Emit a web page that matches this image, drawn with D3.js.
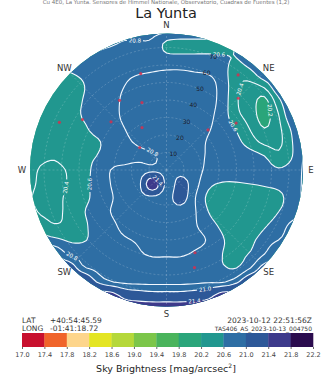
<!DOCTYPE html>
<html><head><meta charset="utf-8">
<script src="https://cdn.jsdelivr.net/npm/d3@7"></script>
<style>body{margin:0;background:#fff}svg{display:block}text{font-family:"DejaVu Sans",sans-serif}</style>
</head><body>
<svg id="c" width="329" height="374"></svg>
<script>
// ---------------- data ----------------
const title = "La Yunta";
const subtitle = "Cu 4E0, La Yunta. Sensores de Himmel Nationale, Observatorio, Cuadras de Fuentes (1,2)";
const latText = ["LAT", "+40:54:45.59"];
const longText = ["LONG", "-01:41:18.72"];
const dateText = "2023-10-12 22:51:56Z";
const fileText = "TAS406_AS_2023-10-13_004750";
const cbarLabel = "Sky Brightness [mag/arcsec";
const levels = [17.0,17.4,17.8,18.2,18.6,19.0,19.4,19.8,20.2,20.6,21.0,21.4,21.8,22.2];
const levelColors = ["#c8102e","#f0642a","#fdd58b","#e4e523","#b5d83a","#7cc64a","#4ab45c",
  "#2aa57a","#21978f","#2e6ea4","#2d5898","#3d3a8b","#2b0c4e"];
const lineLevels = [20.2,20.4,20.6,20.8,21.0,21.4];
const compass = [["N",0],["NE",45],["E",90],["SE",135],["S",180],["SW",225],["W",270],["NW",315]];
const zenithRings = [10,20,30,40,50,60,70];
const azimuthLines = [0,45,90,135,180,225,270,315];
// measurement points [azimuth deg, zenith deg]
const scanAz  = [345,340,326,301,294,311,330,310,161,164,37,45,46,56];
const scanZen = [57,41,48,56,67,42,28,20,50,58,68,58,33,48];
// grid axis (degrees from zenith, east / south offsets)
const gridAxis = [-80,-72,-64,-56,-48,-40,-32,-24,-16,-8,0,8,16,24,32,40,48,56,64,72,80];
// sky brightness (mag/arcsec^2), rows north->south, columns west->east
const skyGrid = [
[20.65,20.65,20.65,20.75,20.85,20.85,20.85,20.85,20.85,20.85,20.85,20.85,20.85,20.85,20.85,20.85,20.85,20.8,20.8,20.8,20.8],
[20.65,20.65,20.65,20.75,20.85,20.85,20.82,20.78,20.78,20.76,20.55,20.5,20.5,20.5,20.5,20.65,20.85,20.85,20.85,20.85,20.85],
[20.6,20.6,20.6,20.72,20.8,20.75,20.7,20.7,20.7,20.7,20.66,20.66,20.66,20.66,20.64,20.6,20.8,20.85,20.85,20.85,20.85],
[20.55,20.55,20.58,20.6,20.66,20.68,20.7,20.75,20.78,20.8,20.82,20.82,20.8,20.78,20.7,20.45,20.55,20.8,20.85,20.85,20.85],
[20.5,20.5,20.5,20.45,20.58,20.7,20.72,20.8,20.88,20.9,20.9,20.9,20.9,20.87,20.72,20.45,20.35,20.45,20.8,20.85,20.85],
[20.5,20.5,20.5,20.45,20.6,20.7,20.72,20.84,20.9,20.92,20.92,20.92,20.9,20.87,20.72,20.42,20.3,20.15,20.55,20.85,20.85],
[20.5,20.5,20.45,20.45,20.62,20.7,20.73,20.84,20.9,20.92,20.93,20.92,20.9,20.85,20.7,20.45,20.3,20.12,20.4,20.8,20.85],
[20.5,20.5,20.45,20.45,20.55,20.68,20.72,20.8,20.88,20.92,20.93,20.92,20.9,20.82,20.7,20.58,20.38,20.2,20.35,20.65,20.85],
[20.5,20.5,20.45,20.45,20.5,20.57,20.68,20.76,20.83,20.9,20.93,20.92,20.88,20.78,20.7,20.65,20.5,20.35,20.35,20.6,20.85],
[20.5,20.45,20.42,20.48,20.55,20.6,20.7,20.72,20.75,20.78,20.85,20.92,20.86,20.78,20.72,20.72,20.68,20.6,20.45,20.6,20.85],
[20.5,20.38,20.35,20.42,20.52,20.66,20.8,20.85,20.88,20.9,20.92,20.92,20.88,20.75,20.72,20.72,20.72,20.68,20.62,20.68,20.85],
[20.5,20.35,20.3,20.42,20.54,20.66,20.8,20.88,20.9,21.7,20.9,21.1,20.88,20.65,20.58,20.58,20.6,20.62,20.64,20.7,20.85],
[20.45,20.32,20.33,20.45,20.55,20.65,20.78,20.87,20.92,20.9,20.9,21.1,20.82,20.55,20.45,20.45,20.45,20.5,20.55,20.7,20.85],
[20.5,20.38,20.35,20.45,20.58,20.68,20.8,20.88,20.9,20.92,20.92,20.9,20.82,20.6,20.45,20.45,20.45,20.5,20.6,20.72,20.85],
[20.5,20.5,20.42,20.45,20.55,20.68,20.75,20.85,20.88,20.9,20.9,20.88,20.82,20.7,20.55,20.45,20.45,20.58,20.7,20.85,20.85],
[20.7,20.7,20.65,20.58,20.58,20.66,20.72,20.78,20.82,20.87,20.88,20.88,20.85,20.78,20.62,20.5,20.55,20.7,20.8,20.9,20.9],
[21.0,21.0,21.0,20.78,20.72,20.68,20.7,20.72,20.78,20.82,20.82,20.82,20.78,20.72,20.6,20.55,20.62,20.8,21.0,21.0,21.0],
[21.2,21.2,21.2,21.2,20.85,20.75,20.72,20.72,20.72,20.72,20.72,20.72,20.7,20.68,20.62,20.6,20.8,21.1,21.1,21.1,21.1],
[21.4,21.4,21.4,21.4,21.4,21.0,20.82,20.76,20.75,20.75,20.75,20.75,20.76,20.78,20.78,20.95,21.3,21.3,21.3,21.3,21.3],
[21.6,21.6,21.6,21.6,21.6,21.6,21.6,21.3,21.2,21.15,21.15,21.15,21.2,21.3,21.6,21.6,21.6,21.6,21.6,21.6,21.6],
[21.7,21.7,21.7,21.7,21.7,21.7,21.7,21.7,21.7,21.7,21.7,21.7,21.7,21.7,21.7,21.7,21.7,21.7,21.7,21.7,21.7]
];
// contour label anchors [east deg, south deg]
const labelAnchors = [[-18,-73],[30,-66],[-9,-7],[-48,7],[-59,10],[42,-47],[40,-27],[58,-33],[-54,51],[22,70],[17,75],[-5,7]];

// ---------------- layout ----------------
const svg = d3.select("#c");
const cx = 166.5, cy = 170, R = 136.5, rMax = 78;
const rScale = d3.scaleLinear().domain([0, rMax]).range([0, R]);
const bandColor = d3.scaleThreshold().domain(levels.slice(1, -1)).range(levelColors);

// upsample grid (Catmull-Rom) for smooth contouring
const F = 4, G = gridAxis.length, N = (G - 1) * F + 1;
function cr(p0,p1,p2,p3,t){return 0.5*((2*p1)+(-p0+p2)*t+(2*p0-5*p1+4*p2-p3)*t*t+(-p0+3*p1-3*p2+p3)*t*t*t);}
function up1(arr){ const out=[]; const n=arr.length;
  for(let i=0;i<n-1;i++){ for(let k=0;k<F;k++){ const t=k/F;
    out.push(cr(arr[Math.max(0,i-1)],arr[i],arr[i+1],arr[Math.min(n-1,i+2)],t)); } }
  out.push(arr[n-1]); return out; }
const rowsUp = skyGrid.map(up1);
const colsUp = [];
for (let x=0;x<N;x++){ colsUp.push(up1(rowsUp.map(r=>r[x]))); }
const values = new Float64Array(N*N);
for (let y=0;y<N;y++) for (let x=0;x<N;x++) values[y*N+x] = colsUp[x][y];

const gx = d3.scaleLinear().domain([0, N-1]).range([gridAxis[0], gridAxis[G-1]]);
const toPx = (u,v) => [cx + rScale(gx(u-0.5)), cy + rScale(gx(v-0.5))];
const proj = d3.geoTransform({point(x,y){ const p=toPx(x,y); this.stream.point(p[0],p[1]); }});
const path = d3.geoPath(proj);

const defs = svg.append("defs");
defs.append("clipPath").attr("id","disk").append("circle").attr("cx",cx).attr("cy",cy).attr("r",R);

const plot = svg.append("g").attr("clip-path","url(#disk)");
const vmin = d3.min(values);
const startIdx = Math.max(0, d3.bisectRight(levels, vmin) - 1);
const fillLevels = levels.slice(startIdx, -1);
const fills = d3.contours().size([N,N]).thresholds(fillLevels)(values);
plot.selectAll("path.f").data(fills).join("path").attr("class","f")
  .attr("d", path).attr("fill", d => bandColor(d.value + 0.01)).attr("stroke", "none");

// grid
const gridG = plot.append("g").attr("stroke","#ffffff").attr("stroke-opacity",0.28).attr("stroke-width",0.7).attr("fill","none").attr("stroke-dasharray","2,2");
gridG.selectAll("circle").data(zenithRings).join("circle").attr("cx",cx).attr("cy",cy).attr("r",d=>rScale(d));
gridG.selectAll("line").data(azimuthLines).join("line")
  .attr("x1",cx).attr("y1",cy)
  .attr("x2",d=>cx+R*Math.sin(d*Math.PI/180)).attr("y2",d=>cy-R*Math.cos(d*Math.PI/180));

// contour lines
const lineSets = lineLevels.map(l => d3.contours().size([N,N]).thresholds([l])(values)[0]);
const labels = [];
labelAnchors.forEach(([e,s]) => {
  const tx = cx + rScale(e), ty = cy + rScale(s);
  let best = null;
  lineSets.forEach(ms => ms.coordinates.forEach(poly => poly.forEach(ring => {
    ring.forEach((p,i) => { const q = toPx(p[0],p[1]); const d = (q[0]-tx)**2+(q[1]-ty)**2;
      if (!best || d < best.d) best = {d, q, ring, i, level: ms.value}; });
  })));
  if (!best) return;
  const r = best.ring, n = r.length;
  const a = toPx(...r[(best.i - 3 + n) % n]), b = toPx(...r[(best.i + 3) % n]);
  let ang = Math.atan2(b[1]-a[1], b[0]-a[0]) * 180/Math.PI;
  if (ang > 90) ang -= 180; if (ang < -90) ang += 180;
  labels.push({x: best.q[0], y: best.q[1], ang, text: best.level.toFixed(1)});
});
const mask = defs.append("mask").attr("id","lm").attr("maskUnits","userSpaceOnUse")
  .attr("x",0).attr("y",0).attr("width",329).attr("height",374);
mask.append("rect").attr("width",329).attr("height",374).attr("fill","#fff");
mask.selectAll("rect.g").data(labels).join("rect").attr("class","g")
  .attr("x",-8).attr("y",-3).attr("width",16).attr("height",6).attr("fill","#000")
  .attr("transform",d=>`translate(${d.x},${d.y}) rotate(${d.ang})`);
plot.append("g").attr("mask","url(#lm)").selectAll("path.l").data(lineSets).join("path").attr("class","l")
  .attr("d", path).attr("fill","none").attr("stroke","#f2f8ff").attr("stroke-width",1.1);
plot.selectAll("text.cl").data(labels).join("text").attr("class","cl")
  .attr("transform",d=>`translate(${d.x},${d.y}) rotate(${d.ang})`)
  .attr("text-anchor","middle").attr("dy","0.35em").attr("font-size",5.5).attr("fill","#ffffff").text(d=>d.text);

// measurement points
plot.selectAll("circle.pt").data(scanAz.map((a,i)=>[a,scanZen[i]])).join("circle").attr("class","pt")
  .attr("cx",d=>cx+rScale(d[1])*Math.sin(d[0]*Math.PI/180))
  .attr("cy",d=>cy-rScale(d[1])*Math.cos(d[0]*Math.PI/180))
  .attr("r",1.6).attr("fill","#d2304f").attr("fill-opacity",0.85);

// radial labels
const rl = 22.5*Math.PI/180;
svg.selectAll("text.rl").data(zenithRings).join("text").attr("class","rl")
  .attr("x",d=>cx+rScale(d)*Math.sin(rl)).attr("y",d=>cy-rScale(d)*Math.cos(rl))
  .attr("text-anchor","middle").attr("dy","0.35em").attr("font-size",6).attr("fill","#1a1a2a").text(d=>d);

// compass
svg.selectAll("text.cp").data(compass).join("text").attr("class","cp")
  .attr("x",d=>cx+(R+8)*Math.sin(d[1]*Math.PI/180)).attr("y",d=>cy-(R+8)*Math.cos(d[1]*Math.PI/180))
  .attr("text-anchor","middle").attr("dy","0.35em").attr("font-size",8.5).attr("fill","#333").text(d=>d[0]);

// titles
svg.append("text").attr("x",166).attr("y",4).attr("text-anchor","middle").attr("font-size",5.5).attr("fill","#777").text(subtitle);
svg.append("text").attr("x",166).attr("y",18).attr("text-anchor","middle").attr("font-size",14.5).attr("fill","#222").text(title);

// footer
const ft = svg.append("g").attr("font-size",7.5).attr("fill","#333");
ft.append("text").attr("x",22).attr("y",323).text(latText[0]);
ft.append("text").attr("x",50).attr("y",323).text(latText[1]);
ft.append("text").attr("x",22).attr("y",331).text(longText[0]);
ft.append("text").attr("x",50).attr("y",331).text(longText[1]);
ft.append("text").attr("x",312).attr("y",323).attr("text-anchor","end").text(dateText);
ft.append("text").attr("x",312).attr("y",331).attr("text-anchor","end").attr("font-size",6).text(fileText);

// colorbar
const cb = d3.scaleLinear().domain([levels[0], levels[levels.length-1]]).range([22, 313]);
svg.selectAll("rect.cb").data(levelColors).join("rect").attr("class","cb")
  .attr("x",(d,i)=>cb(levels[i])).attr("y",333).attr("width",(d,i)=>cb(levels[i+1])-cb(levels[i])+0.3).attr("height",14).attr("fill",d=>d);
const cAxis = svg.append("g").attr("transform","translate(0,347)")
  .call(d3.axisBottom(cb).tickValues(levels).tickFormat(d3.format(".1f")).tickSize(2));
cAxis.select(".domain").remove();
cAxis.selectAll("text").attr("font-size",6.5).attr("fill","#444").attr("font-family","DejaVu Sans");
cAxis.selectAll("line").attr("stroke","#666");
const cl = svg.append("text").attr("x",166).attr("y",372).attr("text-anchor","middle").attr("font-size",9.5).attr("fill","#222");
cl.append("tspan").text(cbarLabel);
cl.append("tspan").attr("font-size",6).attr("dy",-4).text("2");
cl.append("tspan").attr("dy",4).text("]");
</script>
</body></html>
